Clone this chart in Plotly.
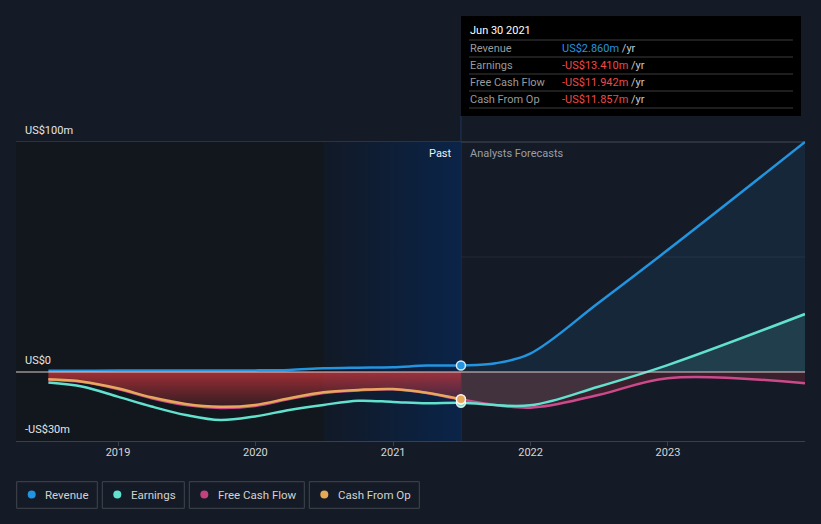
import plotly.graph_objects as go

# ---------------- data (US$ m) ----------------
past_dates = ["2018-06-30", "2018-09-30", "2018-12-31", "2019-03-31", "2019-06-30",
              "2019-09-30", "2019-12-31", "2020-03-31", "2020-06-30", "2020-09-30",
              "2020-12-31", "2021-03-31", "2021-06-30"]
revenue_past = [0.5, 0.5, 0.6, 0.6, 0.7, 0.7, 0.7, 0.9, 1.6, 1.9, 2.1, 2.8, 2.86]
earnings_past = [-4.6, -6.4, -10.7, -15.0, -18.7, -20.9, -19.3, -16.5, -14.3, -12.5, -13.0, -13.6, -13.41]
fcf_past = [-3.4, -4.4, -7.4, -11.4, -14.4, -15.6, -14.8, -11.8, -9.1, -8.0, -7.5, -9.1, -11.942]
cfo_past = [-3.2, -4.2, -7.1, -11.0, -13.9, -15.1, -14.3, -11.4, -8.8, -7.8, -7.4, -9.0, -11.857]

rev_fc_dates = ["2021-06-30", "2021-09-30", "2021-12-31", "2022-06-30", "2022-12-31", "2023-12-31"]
revenue_fc = [2.86, 3.8, 8.0, 30.0, 53.0, 100.0]
fc_dates = ["2021-06-30", "2021-12-31", "2022-06-30", "2022-12-31", "2023-12-31"]
earnings_fc = [-13.41, -14.5, -6.4, 3.0, 25.2]
fcf_fc = [-11.942, -15.5, -10.0, -2.7, -4.9]

tick_vals = ["2019-01-01", "2020-01-01", "2021-01-01", "2022-01-01", "2023-01-01"]
tick_text = ["2019", "2020", "2021", "2022", "2023"]
y_labels = [(100, "US$100m"), (0, "US$0"), (-30, "-US$30m")]
series_names = ["Revenue", "Earnings", "Free Cash Flow", "Cash From Op"]
tooltip_date = "Jun 30 2021"
highlight_start = "2020-06-30"

# ---------------- style ----------------
BG = "#151b26"
C_REV = "#2394df"
C_EAR = "#62e1cf"
C_FCF = "#cc4a8c"
C_CFO = "#e6a85a"
FONT = "Roboto"
W, H = 821, 524
L, R, T, B = 16, 16, 16, 83
PW, PH = W - L - R, H - T - B
YMIN, YMAX = -30, -30 + PH / 2.3


def pxx(p):
    return (p - L) / PW


def pxy(p):
    return (H - B - p) / PH


fig = go.Figure()

# highlighted "past year" band
fig.add_trace(go.Scatter(
    x=[highlight_start, highlight_start, past_dates[-1], past_dates[-1]],
    y=[YMIN, 100, 100, YMIN], fill="toself", mode="none",
    fillgradient=dict(type="horizontal",
                      colorscale=[[0, "rgba(17,25,38,1)"], [1, "rgba(10,36,72,1)"]]),
    hoverinfo="skip", showlegend=False))

# forecast fills
fig.add_trace(go.Scatter(x=rev_fc_dates, y=revenue_fc, fill="tozeroy", mode="none",
                         line_shape="spline", fillcolor="rgba(35,148,223,0.10)",
                         hoverinfo="skip", showlegend=False))
fig.add_trace(go.Scatter(x=fc_dates, y=earnings_fc, fill="tozeroy", mode="none",
                         line_shape="spline", fillcolor="rgba(98,225,207,0.13)",
                         hoverinfo="skip", showlegend=False))
fig.add_trace(go.Scatter(x=fc_dates, y=fcf_fc, fill="tozeroy", mode="none",
                         line_shape="spline", fillcolor="rgba(170,45,65,0.25)",
                         hoverinfo="skip", showlegend=False))
# past red fill
fig.add_trace(go.Scatter(
    x=past_dates, y=fcf_past, fill="tozeroy", mode="none", line_shape="spline",
    fillgradient=dict(type="vertical", start=-16, stop=0,
                      colorscale=[[0, "rgba(190,50,60,0.18)"], [1, "rgba(205,55,60,0.75)"]]),
    hoverinfo="skip", showlegend=False))

# lines
fig.add_trace(go.Scatter(x=past_dates + fc_dates[1:], y=fcf_past + fcf_fc[1:], mode="lines",
                         line=dict(color=C_FCF, width=2.5, shape="spline"),
                         hoverinfo="skip", showlegend=False))
fig.add_trace(go.Scatter(x=past_dates, y=cfo_past, mode="lines",
                         line=dict(color=C_CFO, width=2.5, shape="spline"),
                         hoverinfo="skip", showlegend=False))
fig.add_trace(go.Scatter(x=past_dates + fc_dates[1:], y=earnings_past + earnings_fc[1:], mode="lines",
                         line=dict(color=C_EAR, width=2.5, shape="spline"),
                         hoverinfo="skip", showlegend=False))
fig.add_trace(go.Scatter(x=past_dates + rev_fc_dates[1:], y=revenue_past + revenue_fc[1:], mode="lines",
                         line=dict(color=C_REV, width=2.5, shape="spline"),
                         hoverinfo="skip", showlegend=False))

# markers at the last actual
for vals, col in [(earnings_past, C_EAR), (fcf_past, C_FCF), (cfo_past, C_CFO), (revenue_past, C_REV)]:
    fig.add_trace(go.Scatter(x=[past_dates[-1]], y=[vals[-1]], mode="markers",
                             marker=dict(size=9, color=col, line=dict(color="rgba(255,255,255,0.85)", width=1.5)),
                             hoverinfo="skip", showlegend=False))

shapes = []
# darker area left of the band
shapes.append(dict(type="rect", xref="x", yref="y", x0="2018-01-01", x1=highlight_start,
                   y0=YMIN, y1=100, fillcolor="#12161d", line_width=0, layer="below"))
# grid lines
shapes.append(dict(type="line", xref="paper", yref="y", x0=0, x1=1, y0=50, y1=50,
                   line=dict(color="#252b35", width=1), layer="below"))
shapes.append(dict(type="line", xref="paper", yref="y", x0=0, x1=1, y0=100, y1=100,
                   line=dict(color="#474d57", width=1), layer="below"))
shapes.append(dict(type="line", xref="paper", yref="y", x0=0, x1=1, y0=0, y1=0,
                   line=dict(color="#d8d0d0", width=1.2), layer="above"))
# vertical "now" line
shapes.append(dict(type="line", xref="x", yref="paper", x0=past_dates[-1], x1=past_dates[-1],
                   y0=0, y1=pxy(116), line=dict(color="#1e3758", width=1), layer="below"))

annotations = []
for v, txt in y_labels:
    annotations.append(dict(xref="paper", yref="y", x=pxx(23), y=v, yshift=12, text=txt,
                            showarrow=False, xanchor="left", yanchor="middle",
                            font=dict(family=FONT, size=11, color="#e6e6e6")))
annotations.append(dict(xref="paper", yref="paper", x=pxx(454), y=pxy(153), text="Past",
                        showarrow=False, xanchor="right", yanchor="middle",
                        font=dict(family=FONT, size=11, color="#f0f0f0")))
annotations.append(dict(xref="paper", yref="paper", x=pxx(468), y=pxy(153), text="Analysts Forecasts",
                        showarrow=False, xanchor="left", yanchor="middle",
                        font=dict(family=FONT, size=11, color="#9a9ea6")))

# tooltip box
shapes.append(dict(type="rect", xref="paper", yref="paper", x0=pxx(461), x1=pxx(801),
                   y0=pxy(116), y1=pxy(16), fillcolor="#000000", line_width=0, layer="above"))
for yy in [40, 57, 74, 91, 108]:
    shapes.append(dict(type="line", xref="paper", yref="paper", x0=pxx(469), x1=pxx(793),
                       y0=pxy(yy), y1=pxy(yy), line=dict(color="#3c3c3c", width=1), layer="above"))
annotations.append(dict(xref="paper", yref="paper", x=pxx(468), y=pxy(31), text=tooltip_date,
                        showarrow=False, xanchor="left", yanchor="middle",
                        font=dict(family=FONT, size=11, color="#ffffff")))


def money(v):
    return ("-" if v < 0 else "") + f"US${abs(v):.3f}m"


last_vals = [revenue_past[-1], earnings_past[-1], fcf_past[-1], cfo_past[-1]]
for i, (name, v) in enumerate(zip(series_names, last_vals)):
    yc = 48.5 + 17 * i
    col = C_REV if v >= 0 else "#f04848"
    annotations.append(dict(xref="paper", yref="paper", x=pxx(468), y=pxy(yc), text=name,
                            showarrow=False, xanchor="left", yanchor="middle",
                            font=dict(family=FONT, size=11, color="#9a9a9a")))
    annotations.append(dict(xref="paper", yref="paper", x=pxx(560), y=pxy(yc),
                            text=f'<span style="color:{col}">{money(v)}</span> /yr',
                            showarrow=False, xanchor="left", yanchor="middle",
                            font=dict(family=FONT, size=11, color="#c8c8c8")))

# legend boxes
legend_boxes = [(16.7, 97.3), (102.3, 184.3), (189.3, 304.3), (309.3, 419.3)]
legend_cols = [C_REV, C_EAR, "#c2427f", "#e6a855"]
for (x0, x1), name, col in zip(legend_boxes, series_names, legend_cols):
    shapes.append(dict(type="rect", xref="paper", yref="paper", x0=pxx(x0), x1=pxx(x1),
                       y0=pxy(508.3), y1=pxy(481.7), fillcolor="rgba(0,0,0,0)",
                       line=dict(color="#40454e", width=1)))
    shapes.append(dict(type="circle", xref="paper", yref="paper", xsizemode="pixel", ysizemode="pixel",
                       xanchor=pxx(x0 + 15), yanchor=pxy(494.5), x0=-4, x1=4, y0=-4, y1=4,
                       fillcolor=col, line_width=0))
    annotations.append(dict(xref="paper", yref="paper", x=pxx(x0 + 26.5), y=pxy(494.5), text=name,
                            showarrow=False, xanchor="left", yanchor="middle",
                            font=dict(family=FONT, size=11.5, color="#d2d2d2")))

fig.update_layout(
    width=W, height=H, margin=dict(l=L, r=R, t=T, b=B),
    paper_bgcolor=BG, plot_bgcolor=BG, showlegend=False,
    font=dict(family=FONT, size=11, color="#d0d0d0"),
    shapes=shapes, annotations=annotations,
    xaxis=dict(type="date", range=["2018-04-05", "2023-12-31"], tickvals=tick_vals, ticktext=tick_text,
               showgrid=False, zeroline=False, showline=True, linecolor="#3a404a", linewidth=1,
               ticks="outside", ticklen=4, tickcolor="#3a404a", ticklabelstandoff=-3,
               tickfont=dict(family=FONT, size=11, color="#d6d6d6")),
    yaxis=dict(range=[YMIN, YMAX], showgrid=False, zeroline=False, showticklabels=False,
               showline=False, ticks=""),
)

fig.write_html("out.html", config={"displayModeBar": False},
               post_script="document.body.style.margin='0';document.body.style.background='" + BG + "';")
